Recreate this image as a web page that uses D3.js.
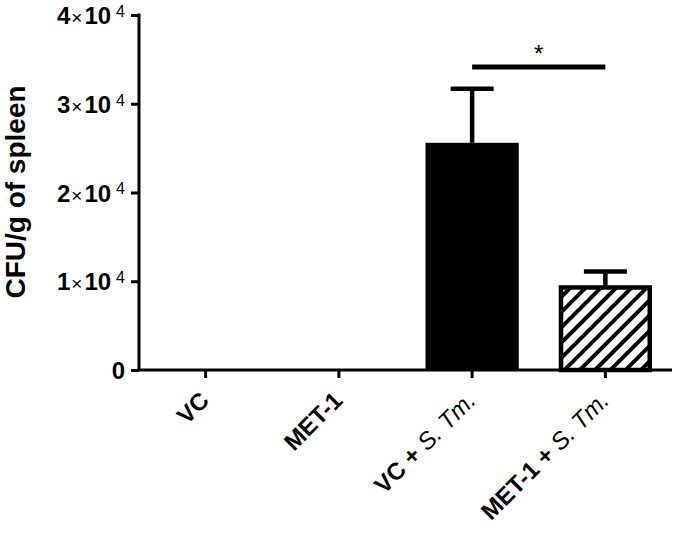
<!DOCTYPE html>
<html>
<head>
<meta charset="utf-8">
<script src="https://cdn.jsdelivr.net/npm/d3@7"></script>
<style>
  html, body { margin: 0; padding: 0; background: #fff; }
  svg { display: block; font-family: "Liberation Sans", Arial, sans-serif; }
</style>
</head>
<body>
<svg id="chart" width="675" height="541"></svg>
<script>
// ---- data ----
const categories = ["VC", "MET-1", "VC + S. Tm.", "MET-1 + S. Tm."];
const labelMain = ["VC", "MET-1", "VC + ", "MET-1 + "];
const labelItalic = ["", "", "S. Tm.", "S. Tm."];
const means = [0, 0, 25600, 9300];
const errors = [0, 0, 6100, 1800];
const fills = ["solid", "solid", "solid", "hatch"];
const yTicks = [0, 10000, 20000, 30000, 40000];
const yTickMantissa = ["0", "1", "2", "3", "4"];
const yTickExponent = "4";
const yLabel = "CFU/g of spleen";
const sigPair = ["VC + S. Tm.", "MET-1 + S. Tm."];
const sigText = "*";

// ---- layout ----
const svg = d3.select("#chart");
const axisX = 139, axisY = 370, topY = 15, rightX = 672;

const x = d3.scaleBand().domain(categories).range([axisX, rightX])
  .paddingInner(0.3).paddingOuter(0.15);
const y = d3.scaleLinear().domain([0, 40000]).range([axisY, topY]);

// hatch pattern
const defs = svg.append("defs");
const pat = defs.append("pattern").attr("id", "hatch")
  .attr("patternUnits", "userSpaceOnUse")
  .attr("width", 10.8).attr("height", 10.8)
  .attr("patternTransform", "rotate(45)");
pat.append("rect").attr("width", 10.8).attr("height", 10.8).attr("fill", "#fff");
pat.append("line").attr("x1", 2).attr("y1", -1).attr("x2", 2).attr("y2", 12)
  .attr("stroke", "#000").attr("stroke-width", 4);

const data = categories.map((c, i) => ({ c, m: means[i], e: errors[i], f: fills[i] }));

// bars
const bw = x.bandwidth();
const bars = svg.append("g");
data.filter(d => d.m > 0).forEach(d => {
  if (d.f === "solid") {
    bars.append("rect")
      .attr("x", x(d.c)).attr("y", y(d.m))
      .attr("width", bw).attr("height", y(0) - y(d.m))
      .attr("fill", "#000");
  } else {
    bars.append("rect")
      .attr("x", x(d.c) + 2.25).attr("y", y(d.m))
      .attr("width", bw - 4.5).attr("height", y(0) - y(d.m))
      .attr("fill", "url(#hatch)").attr("stroke", "#000").attr("stroke-width", 4.5);
  }
  // error bar (upper)
  const cx = x(d.c) + bw / 2;
  bars.append("line").attr("x1", cx).attr("x2", cx)
    .attr("y1", y(d.m)).attr("y2", y(d.m + d.e))
    .attr("stroke", "#000").attr("stroke-width", 4.5);
  bars.append("line").attr("x1", cx - 21.5).attr("x2", cx + 21.5)
    .attr("y1", y(d.m + d.e)).attr("y2", y(d.m + d.e))
    .attr("stroke", "#000").attr("stroke-width", 4.5);
});

// y axis
const yAxis = d3.axisLeft(y).tickValues(yTicks).tickSize(8).tickFormat("");
const gy = svg.append("g").attr("transform", `translate(${axisX},0)`).call(yAxis);
gy.select(".domain").attr("stroke", "#000").attr("stroke-width", 3)
  .attr("d", `M0,${topY - 1.5}V${axisY}`);
gy.selectAll(".tick line").attr("stroke", "#000").attr("stroke-width", 3);
gy.selectAll(".tick").each(function(v) {
  const t = d3.select(this).append("text")
    .attr("x", -14).attr("dy", "0.36em")
    .attr("text-anchor", "end").attr("fill", "#000")
    .style("font-size", "24px").style("font-weight", "bold");
  const mant = yTickMantissa[yTicks.indexOf(v)];
  t.append("tspan").text(mant);
  if (v !== 0) {
    t.append("tspan").text("\u00d7").attr("dx", 1).style("font-weight", "normal").style("font-size", "19px");
    t.append("tspan").text("10").attr("dx", 2);
    t.append("tspan").text(yTickExponent).attr("dx", 5).attr("dy", "-0.45em")
      .style("font-weight", "normal").style("font-size", "16px");
  }
});

// x axis
const xAxis = d3.axisBottom(x).tickSize(8).tickSizeOuter(0).tickFormat("");
const gx = svg.append("g").attr("transform", `translate(0,${axisY})`).call(xAxis);
gx.select(".domain").attr("stroke", "#000").attr("stroke-width", 3)
  .attr("d", `M${axisX - 1.5},0H${rightX}`);
gx.selectAll(".tick line").attr("stroke", "#000").attr("stroke-width", 3);
gx.selectAll(".tick").each(function(c) {
  const i = categories.indexOf(c);
  const t = d3.select(this).append("text")
    .attr("text-anchor", "end").attr("fill", "#000")
    .attr("transform", "translate(5,32) rotate(-45)")
    .style("font-size", "24px").style("font-weight", "bold");
  t.append("tspan").text(labelMain[i]);
  if (labelItalic[i]) {
    t.append("tspan").text(labelItalic[i]).style("font-weight", "normal").style("font-style", "italic");
  }
});

// y label
svg.append("text")
  .attr("transform", `translate(25,192) rotate(-90)`)
  .attr("text-anchor", "middle").attr("fill", "#000")
  .style("font-size", "28px").style("font-weight", "bold")
  .text(yLabel);

// significance
const sx1 = x(sigPair[0]) + bw / 2, sx2 = x(sigPair[1]) + bw / 2;
svg.append("line").attr("x1", sx1).attr("x2", sx2).attr("y1", 67).attr("y2", 67)
  .attr("stroke", "#000").attr("stroke-width", 5);
svg.append("text").attr("x", (sx1 + sx2) / 2).attr("y", 62)
  .attr("text-anchor", "middle").attr("fill", "#000")
  .style("font-size", "24px").text(sigText);
</script>
</body>
</html>
